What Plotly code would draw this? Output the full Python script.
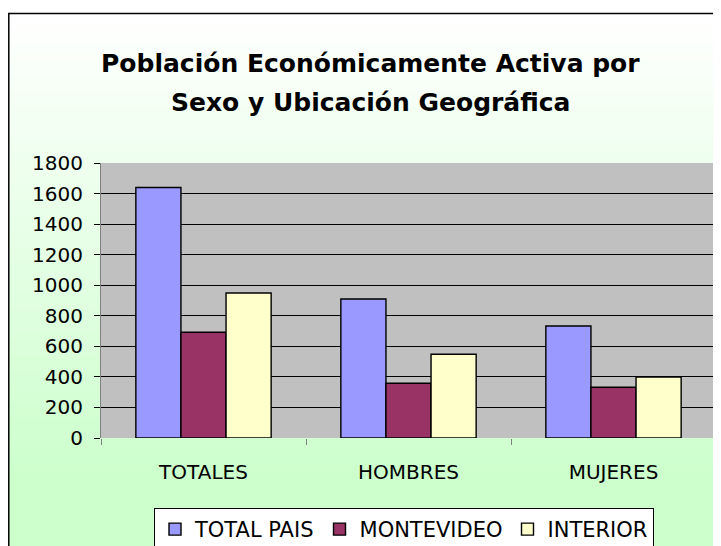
import plotly.graph_objects as go

categories = ["TOTALES", "HOMBRES", "MUJERES"]
total_pais = [1640, 910, 733]
montevideo = [692, 358, 332]
interior = [949, 548, 399]
series_names = ["TOTAL PAIS", "MONTEVIDEO", "INTERIOR"]
series_colors = ["#9999FF", "#993366", "#FFFFCC"]
y_ticks = [0, 200, 400, 600, 800, 1000, 1200, 1400, 1600, 1800]

OFF = 8                    # page body margin
W, H = 721 - OFF, 546 - OFF
px0, px1 = 101, 716        # plot area left/right (screen pixels)
py_top, py_bot = 163, 438  # plot area top/bottom (screen pixels)
FONT = "DejaVu Sans, Liberation Sans, Arial"

def fx(p):
    return (p - OFF) / W

def fy(p):
    return (H - (p - OFF)) / H

fig = go.Figure()
for name, vals, col in zip(series_names, [total_pais, montevideo, interior], series_colors):
    fig.add_trace(go.Bar(
        x=categories, y=vals, name=name,
        marker=dict(color=col, line=dict(color="#000000", width=1.4)),
    ))

shapes = []
# gradient background (white -> light green)
g_top, g_bot = 13, 480
n = 60
for i in range(n):
    y0 = g_top + (g_bot - g_top) * i / n
    y1 = g_top + (g_bot - g_top) * (i + 1) / n + 0.8
    t = (i + 0.5) / n
    r = int(round(255 - (255 - 204) * t))
    shapes.append(dict(type="rect", xref="paper", yref="paper",
                       x0=fx(8), x1=fx(721), y0=fy(y1), y1=fy(y0),
                       fillcolor=f"rgb({r},255,{r})", line=dict(width=0), layer="below"))
shapes.append(dict(type="rect", xref="paper", yref="paper",
                   x0=fx(8), x1=fx(721), y0=fy(560), y1=fy(g_bot),
                   fillcolor="rgb(204,255,204)", line=dict(width=0), layer="below"))
# plot area
shapes.append(dict(type="rect", xref="paper", yref="paper",
                   x0=fx(px0), x1=fx(px1), y0=fy(py_bot), y1=fy(py_top),
                   fillcolor="#C0C0C0", line=dict(width=0), layer="below"))
# outer border
shapes.append(dict(type="rect", xref="paper", yref="paper",
                   x0=fx(8.8), x1=fx(719.5), y0=fy(570), y1=fy(13.5),
                   fillcolor="rgba(0,0,0,0)", line=dict(color="#000000", width=1.5), layer="above"))

annotations = [
    dict(text="<b>Población Económicamente Activa por</b>", xref="paper", yref="paper",
         x=fx(371), y=fy(63), xanchor="center", yanchor="middle", showarrow=False,
         font=dict(family=FONT, size=25, color="#000000")),
    dict(text="<b>Sexo y Ubicación Geográfica</b>", xref="paper", yref="paper",
         x=fx(371), y=fy(103), xanchor="center", yanchor="middle", showarrow=False,
         font=dict(family=FONT, size=25, color="#000000")),
]

fig.update_layout(
    width=W, height=H,
    margin=dict(l=0, r=0, t=0, b=0, autoexpand=False),
    paper_bgcolor="#FFFFFF",
    plot_bgcolor="rgba(0,0,0,0)",
    barmode="group", bargap=0.34, bargroupgap=0,
    font=dict(family=FONT, size=20, color="#000000"),
    shapes=shapes, annotations=annotations,
    xaxis=dict(domain=[fx(px0), fx(px1)], type="category",
               tickson="boundaries", ticks="outside", ticklen=6, tickcolor="#808080",
               showline=False, showgrid=False, ticklabelstandoff=20,
               tickfont=dict(size=20)),
    yaxis=dict(domain=[fy(py_bot), fy(py_top)], range=[0, 1800],
               tickvals=y_ticks, ticks="outside", ticklen=6, tickcolor="#000000",
               showline=True, linecolor="#808080", linewidth=1,
               showgrid=True, gridcolor="#000000", gridwidth=1,
               zeroline=False, ticklabelstandoff=7, tickfont=dict(size=20)),
    legend=dict(orientation="h", x=fx(154), y=fy(508), xanchor="left", yanchor="top",
                bgcolor="#FFFFFF", bordercolor="#000000", borderwidth=1,
                font=dict(size=21), itemwidth=30, traceorder="normal"),
    showlegend=True,
)

fig.write_html("out.html")
